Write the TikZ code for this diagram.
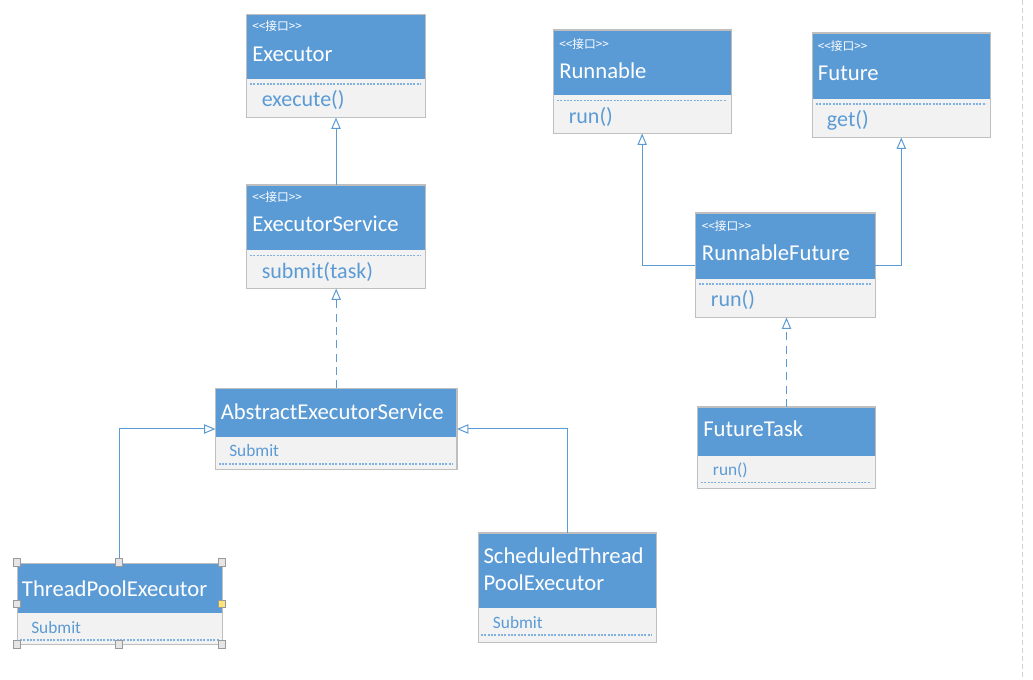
\documentclass[tikz,border=0pt]{standalone}
\usepackage{fontspec}
\setmainfont{Carlito}
\newfontfamily\cjk{Noto Sans CJK SC}
\usetikzlibrary{arrows.meta,fit}
\definecolor{hdr}{HTML}{5B9BD5}
\definecolor{bodygray}{HTML}{F2F2F2}
\definecolor{boxgray}{HTML}{BFBFBF}
\definecolor{txtblue}{HTML}{5B9BD5}
\definecolor{divblue}{HTML}{7FB2E2}
\definecolor{pagegray}{HTML}{D4D4D4}
\definecolor{hgray}{HTML}{9A9A9A}
\definecolor{hyellow}{HTML}{FFE47A}
\tikzset{
  conn/.style={draw=hdr, line width=0.75pt},
  realize/.style={conn, -{Triangle[open, length=8.5pt, width=7pt]}},
  realizedash/.style={realize, dash pattern=on 6pt off 4pt},
  titletext/.style={anchor=base west, inner sep=0, text=white, font=\fontsize{17}{20}\selectfont},
  stereo/.style={anchor=base west, inner sep=0, text=white, font=\cjk\fontsize{8.8}{10}\selectfont},
  methodtext/.style={anchor=base west, inner sep=0, text=txtblue, font=\fontsize{16.5}{20}\selectfont},
  smalltext/.style={anchor=base west, inner sep=0, text=txtblue, font=\fontsize{13}{16}\selectfont},
  divider/.style={draw=divblue, line width=0.8pt, dash pattern=on 1.6pt off 0.9pt},
  handle/.style={draw=hgray, fill=black!10, line width=0.5pt, minimum size=5.4pt, inner sep=0},
}
% #1 name, #2 left, #3 top, #4 right, #5 bottom, #6 header bottom
\newcommand\umlbox[6]{%
  \node[fit={(#2,#3) (#4,#5)}, inner sep=0, fill=bodygray] (#1) {};
  \fill[hdr] (#2,#3) rectangle (#4,#6);
  \draw[boxgray, line width=0.8pt] (#1.north west) rectangle (#1.south east);
}
\begin{document}
\begin{tikzpicture}[x=0.75pt,y=-0.75pt]
\useasboundingbox (0,0) rectangle (1033,680);
\fill[white] (0,0) rectangle (1033,680);
\draw[pagegray, line width=0.7pt, dash pattern=on 4pt off 2pt] (1022.3,0) -- (1022.3,680);

% Executor
\umlbox{exec}{246.7}{14.7}{425.3}{117.3}{79.3}
\node[stereo] (exec-s) at (252,30.7) {<<接口>>};
\node[titletext] (exec-t) at (252,61.7) {Executor};
\draw[divider] (250,84) -- (421,84);
\node[methodtext] (exec-m) at (261.5,106.7) {execute()};

% ExecutorService
\umlbox{ser}{246.7}{185.3}{425.3}{288.3}{250}
\node[stereo] (ser-s) at (252,201.7) {<<接口>>};
\node[titletext] (ser-t) at (252,231.7) {ExecutorService};
\draw[divider] (250,255.3) -- (421,255.3);
\node[methodtext] (ser-m) at (261.5,278.3) {submit(task)};

% AbstractExecutorService
\umlbox{abs}{215.7}{388.7}{456.7}{469.3}{437.3}
\node[titletext] (abs-t) at (220.5,420) {AbstractExecutorService};
\node[smalltext] (abs-m) at (229,456.7) {Submit};
\draw[divider] (218.5,464) -- (453,464);

% ThreadPoolExecutor
\umlbox{tpe}{17.3}{564}{222.3}{644.3}{613}
\node[titletext] (tpe-t) at (21.7,596.3) {ThreadPoolExecutor};
\node[smalltext] (tpe-m) at (31,633.3) {Submit};
\draw[divider] (20,640) -- (219,640);

% ScheduledThreadPoolExecutor
\umlbox{sched}{478.3}{533.3}{656}{642.3}{608.3}
\node[titletext] (sched-t1) at (483.3,563.3) {ScheduledThread};
\node[titletext] (sched-t2) at (483.3,590.7) {PoolExecutor};
\node[smalltext] (sched-m) at (492.7,628.3) {Submit};
\draw[divider] (481,635) -- (652,635);

% Runnable
\umlbox{run}{553.3}{30.3}{731}{133.3}{95}
\node[stereo] (run-s) at (559,48.3) {<<接口>>};
\node[titletext] (run-t) at (559,78.3) {Runnable};
\draw[divider] (557,100.3) -- (727,100.3);
\node[methodtext] (run-m) at (568.5,123.3) {run()};

% Future
\umlbox{fut}{812.3}{33.3}{990.3}{137.3}{99}
\node[stereo] (fut-s) at (817.7,50.7) {<<接口>>};
\node[titletext] (fut-t) at (817.7,80.7) {Future};
\draw[divider] (816,104) -- (986,104);
\node[methodtext] (fut-m) at (826.7,126.7) {get()};

% RunnableFuture
\umlbox{rf}{695.7}{213.3}{875}{317.3}{279.3}
\node[stereo] (rf-s) at (701.7,230.7) {<<接口>>};
\node[titletext] (rf-t) at (701.7,260.7) {RunnableFuture};
\draw[divider] (699,284) -- (871,284);
\node[methodtext] (rf-m) at (710.7,306.7) {run()};

% FutureTask
\umlbox{ft}{697.7}{407.3}{875.3}{488.3}{456}
\node[titletext] (ft-t) at (703,436.7) {FutureTask};
\node[smalltext] (ft-m) at (712.7,476) {run()};
\draw[divider] (701,482.3) -- (871,482.3);

% connectors
\draw[realize] (ser.north) -- (exec.south);
\draw[realizedash] (abs.north) -- (abs.north |- ser.south);
\draw[realize] (tpe.north) |- (abs.west);
\draw[realize] (sched.north) |- (abs.east);
\draw[realize] (rf.west) -| (run.south);
\draw[realize] (rf.east) -| (fut.south);
\draw[realizedash] (ft.north) -- (ft.north |- rf.south);

% selection handles on ThreadPoolExecutor
\node[handle] (h1) at (16.7,562.3) {};
\node[handle] (h2) at (118.8,562.3) {};
\node[handle] (h3) at (221.7,562.3) {};
\node[handle] (h4) at (16.7,604) {};
\node[handle, fill=hyellow] (h5) at (221.7,604) {};
\node[handle] (h6) at (16.7,644.3) {};
\node[handle] (h7) at (118.8,644.3) {};
\node[handle] (h8) at (221.7,644.3) {};
\end{tikzpicture}
\end{document}
